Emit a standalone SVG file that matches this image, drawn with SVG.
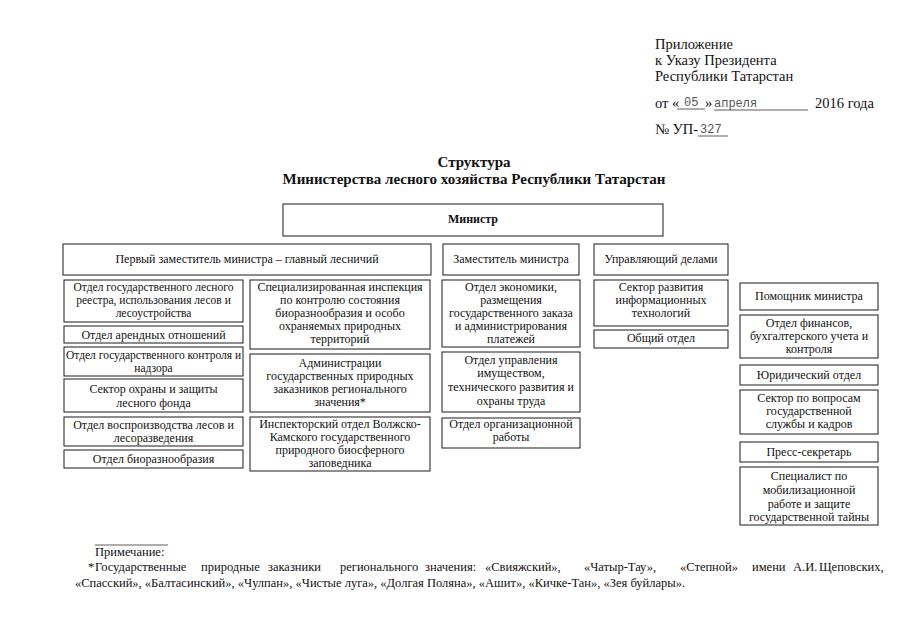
<svg xmlns="http://www.w3.org/2000/svg" width="905" height="640" viewBox="0 0 905 640">
<style>
text{font-family:"Liberation Serif","Times New Roman",serif;fill:#111}
.h{font-size:14.5px}
.hw{font-family:"Liberation Mono","DejaVu Sans Mono",monospace;font-size:12px;fill:#555}
.t{font-size:15px;font-weight:bold;text-anchor:middle}
.b{fill:#fff;stroke:#1a1a1a;stroke-width:1}
.n{font-size:11.5px;text-anchor:middle}
.m{font-size:12px;text-anchor:middle}
.f{font-size:12.5px}
.u{stroke:#333;stroke-width:0.8}
</style>
<rect width="905" height="640" fill="#fff"/>
<g id="header">
<text class="h" x="655" y="49">Приложение</text>
<text class="h" x="655" y="65">к Указу Президента</text>
<text class="h" x="655" y="81">Республики Татарстан</text>
<text class="h" x="655" y="108">от «</text>
<text class="hw" x="684" y="106">05</text>
<line class="u" x1="677" y1="109" x2="705" y2="109"/>
<text class="h" x="705" y="108">»</text>
<text class="hw" x="714" y="107">апреля</text>
<line class="u" x1="714" y1="110" x2="808" y2="110"/>
<text class="h" x="815" y="108">2016 года</text>
<text class="h" x="655" y="134">№ УП-</text>
<text class="hw" x="700" y="133">327</text>
<line class="u" x1="698" y1="136" x2="728" y2="136"/>
</g>
<g id="title">
<text class="t" x="474" y="167">Структура</text>
<text class="t" x="474" y="184">Министерства лесного хозяйства Республики Татарстан</text>
</g>
<g id="connectors"></g>
<g id="minister"><rect class="b" x="283" y="204" width="380" height="32"/><text class="m" x="473" y="223" font-weight="bold">Министр</text></g>
<g id="first-deputy"><rect class="b" x="63" y="244" width="368" height="31"/><text class="m" x="247" y="263">Первый заместитель министра – главный лесничий</text></g>
<g id="deputy"><rect class="b" x="443" y="244" width="136" height="31"/><text class="m" x="511" y="263">Заместитель министра</text></g>
<g id="manager"><rect class="b" x="594" y="244" width="134" height="31"/><text class="m" x="661" y="263">Управляющий делами</text></g>

<g id="c1b1"><rect class="b" x="64" y="280" width="179" height="42"/><text class="n" x="153.5" y="291">Отдел государственного лесного</text><text class="n" x="153.5" y="304">реестра, использования лесов и</text><text class="n" x="153.5" y="317">лесоустройства</text></g>
<g id="c1b2"><rect class="b" x="64" y="326" width="179" height="17"/><text class="m" x="153.5" y="339">Отдел арендных отношений</text></g>
<g id="c1b3"><rect class="b" x="64" y="347" width="179" height="29"/><text class="n" x="153.5" y="359">Отдел государственного контроля и</text><text class="n" x="153.5" y="372">надзора</text></g>
<g id="c1b4"><rect class="b" x="64" y="379" width="179" height="33"/><text class="m" x="153.5" y="393">Сектор охраны и защиты</text><text class="m" x="153.5" y="407">лесного фонда</text></g>
<g id="c1b5"><rect class="b" x="64" y="417" width="179" height="29"/><text class="m" x="153.5" y="429">Отдел воспроизводства лесов и</text><text class="m" x="153.5" y="442">лесоразведения</text></g>
<g id="c1b6"><rect class="b" x="64" y="450" width="179" height="18"/><text class="m" x="153.5" y="463">Отдел биоразнообразия</text></g>

<g id="c2b1"><rect class="b" x="250" y="280" width="180" height="69"/><text class="m" x="340" y="291">Специализированная инспекция</text><text class="m" x="340" y="304">по контролю состояния</text><text class="m" x="340" y="317">биоразнообразия и особо</text><text class="m" x="340" y="330">охраняемых природных</text><text class="m" x="340" y="343">территорий</text></g>
<g id="c2b2"><rect class="b" x="250" y="354" width="180" height="58"/><text class="m" x="340" y="367">Администрации</text><text class="m" x="340" y="380">государственных природных</text><text class="m" x="340" y="393">заказников регионального</text><text class="m" x="340" y="406">значения*</text></g>
<g id="c2b3"><rect class="b" x="250" y="417" width="180" height="54"/><text class="m" x="340" y="428">Инспекторский отдел Волжско-</text><text class="m" x="340" y="441">Камского государственного</text><text class="m" x="340" y="454">природного биосферного</text><text class="m" x="340" y="467">заповедника</text></g>

<g id="c3b1"><rect class="b" x="442" y="280" width="138" height="67"/><text class="m" x="511" y="291">Отдел экономики,</text><text class="m" x="511" y="304">размещения</text><text class="m" x="511" y="317">государственного заказа</text><text class="m" x="511" y="330">и администрирования</text><text class="m" x="511" y="343">платежей</text></g>
<g id="c3b2"><rect class="b" x="442" y="352" width="138" height="60"/><text class="m" x="511" y="364">Отдел управления</text><text class="m" x="511" y="377">имуществом,</text><text class="m" x="511" y="391">технического развития и</text><text class="m" x="511" y="405">охраны труда</text></g>
<g id="c3b3"><rect class="b" x="442" y="418" width="138" height="30"/><text class="m" x="511" y="428">Отдел организационной</text><text class="m" x="511" y="441">работы</text></g>

<g id="c4b1"><rect class="b" x="594" y="280" width="134" height="46"/><text class="m" x="661" y="291">Сектор развития</text><text class="m" x="661" y="304">информационных</text><text class="m" x="661" y="317">технологий</text></g>
<g id="c4b2"><rect class="b" x="594" y="330" width="134" height="18"/><text class="m" x="661" y="342">Общий отдел</text></g>

<g id="c5b1"><rect class="b" x="740" y="283" width="138" height="27"/><text class="m" x="809" y="300">Помощник министра</text></g>
<g id="c5b2"><rect class="b" x="740" y="315" width="138" height="43"/><text class="m" x="809" y="327">Отдел финансов,</text><text class="m" x="809" y="340">бухгалтерского учета и</text><text class="m" x="809" y="353">контроля</text></g>
<g id="c5b3"><rect class="b" x="740" y="365" width="138" height="20"/><text class="m" x="809" y="379">Юридический отдел</text></g>
<g id="c5b4"><rect class="b" x="740" y="390" width="138" height="44"/><text class="m" x="809" y="402">Сектор по вопросам</text><text class="m" x="809" y="415">государственной</text><text class="m" x="809" y="428">службы и кадров</text></g>
<g id="c5b5"><rect class="b" x="740" y="442" width="138" height="20"/><text class="m" x="809" y="456">Пресс-секретарь</text></g>
<g id="c5b6"><rect class="b" x="740" y="467" width="138" height="58"/><text class="m" x="809" y="480">Специалист по</text><text class="m" x="809" y="494">мобилизационной</text><text class="m" x="809" y="508">работе и защите</text><text class="m" x="809" y="521">государственной тайны</text></g>

<g id="footnote">
<line class="u" x1="95" y1="545" x2="168" y2="545"/>
<text class="f" x="95" y="556">Примечание:</text>
<text class="f" y="571"><tspan x="88">*</tspan><tspan x="95">Государственные</tspan><tspan x="201">природные</tspan><tspan x="268">заказники</tspan><tspan x="340">регионального</tspan><tspan x="425">значения:</tspan><tspan x="485">«Свияжский»,</tspan><tspan x="584">«Чатыр-Тау»,</tspan><tspan x="680">«Степной»</tspan><tspan x="752">имени</tspan><tspan x="793">А.И.</tspan><tspan x="819">Щеповских,</tspan></text>
<text class="f" x="75" y="587">«Спасский», «Балтасинский», «Чулпан», «Чистые луга», «Долгая Поляна», «Ашит», «Кичке-Тан», «Зея буйлары».</text>
</g>
</svg>
